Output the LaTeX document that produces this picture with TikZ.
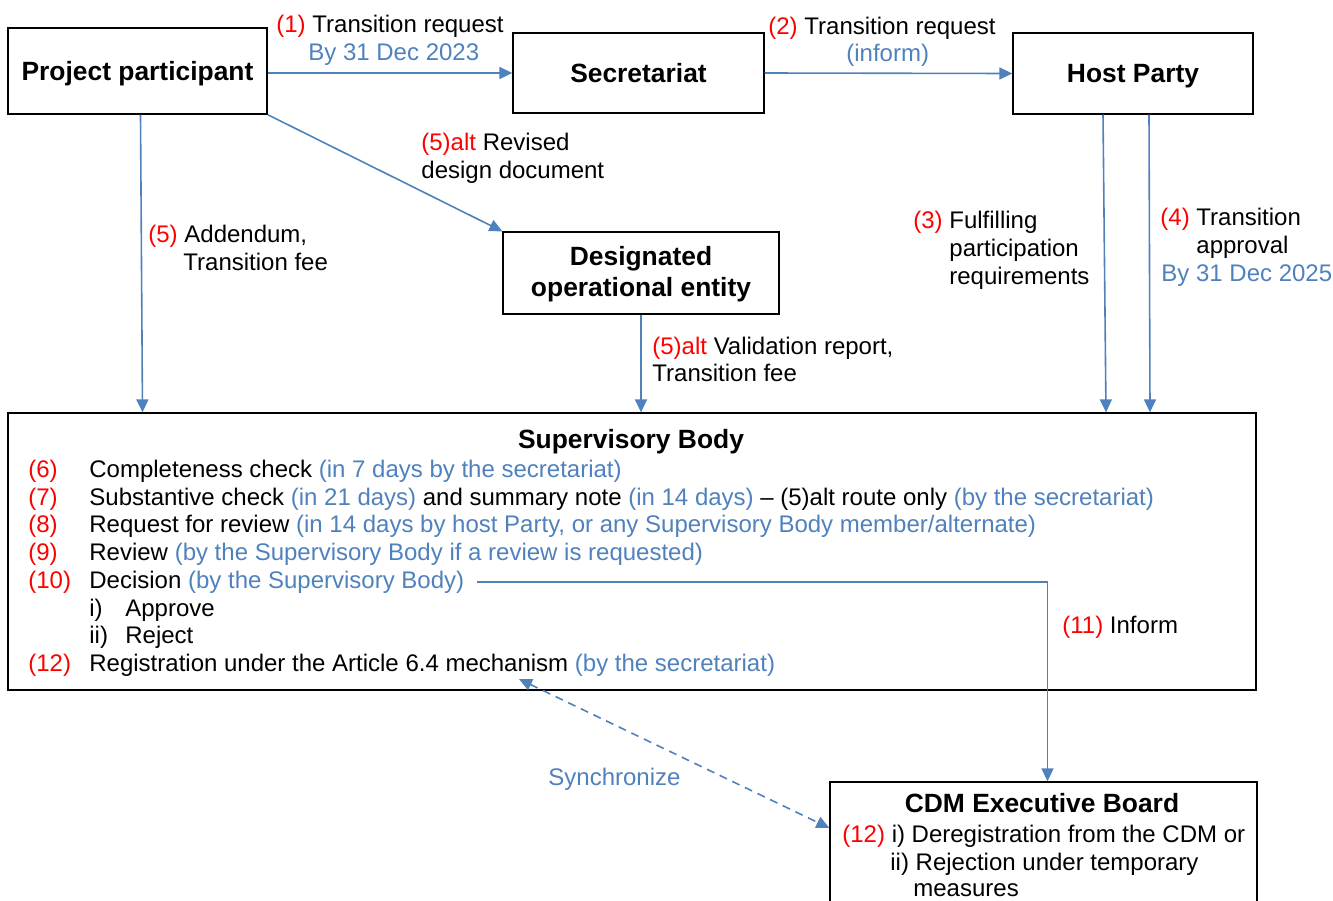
\documentclass[tikz,border=0pt]{standalone}
\usepackage{fontspec}
\setmainfont{Liberation Sans}
\usetikzlibrary{arrows.meta}

\definecolor{flowblue}{RGB}{79,129,189}
\definecolor{stepred}{RGB}{255,0,0}
\newcommand{\redtxt}[1]{\textcolor{stepred}{#1}}
\newcommand{\bluetxt}[1]{\textcolor{flowblue}{#1}}

\begin{document}
\begin{tikzpicture}[x=0.5pt, y=-0.5pt,
  font=\fontsize{12}{14}\selectfont,
  box/.style={draw, line width=0.65pt, inner sep=0pt, align=center,
    font=\fontsize{13.2}{15.5}\selectfont\bfseries},
  onebox/.style={box, text height=9.45pt, text depth=0pt},
  title/.style={anchor=base, inner sep=0pt, font=\fontsize{13.2}{15.5}\selectfont\bfseries},
  lbl/.style={anchor=base west, inner sep=0pt},
  flow/.style={-{Triangle[length=6.5pt,width=6pt]}, flowblue, line width=0.8pt}]
  \useasboundingbox (0,0) rectangle (1333,900);

  % boxes
  \node[onebox, minimum width=129.5pt, minimum height=43pt] (pp) at (137.5,71) {Project participant};
  \node[onebox, minimum width=125.5pt, minimum height=40pt] (sec) at (638.5,73) {Secretariat};
  \node[onebox, minimum width=120pt, minimum height=40.5pt] (hp) at (1133,73.5) {Host Party};
  \node[box, minimum width=138pt, minimum height=41pt] (doe) at (641,273) {\rule{0pt}{11pt}Designated\\operational entity};
  \node[box, minimum width=624pt, minimum height=138.5pt] (sb) at (632,551.5) {};
  \node[box, minimum width=213.5pt, minimum height=74pt] (cdm) at (1043.5,856) {};

  % supervisory body
  \node[title] (sbtitle) at (631,448) {Supervisory Body};
  \node[lbl] (row6) at (28,477) {\makebox[30.5pt][l]{\redtxt{(6)}}Completeness check \bluetxt{(in 7 days by the secretariat)}};
  \node[lbl] (row7) at (28,505) {\makebox[30.5pt][l]{\redtxt{(7)}}Substantive check \bluetxt{(in 21 days)} and summary note \bluetxt{(in 14 days)} -- (5)alt route only \bluetxt{(by the secretariat)}};
  \node[lbl] (row8) at (28,532) {\makebox[30.5pt][l]{\redtxt{(8)}}Request for review \bluetxt{(in 14 days by host Party, or any Supervisory Body member/alternate)}};
  \node[lbl] (row9) at (28,560) {\makebox[30.5pt][l]{\redtxt{(9)}}Review \bluetxt{(by the Supervisory Body if a review is requested)}};
  \node[lbl] (row10) at (28,588) {\makebox[30.5pt][l]{\redtxt{(10)}}Decision \bluetxt{(by the Supervisory Body)}};
  \node[lbl] (row10a) at (89,616) {\makebox[18pt][l]{i)}Approve};
  \node[lbl] (row10b) at (89,643) {\makebox[18pt][l]{ii)}Reject};
  \node[lbl] (row12) at (28,671) {\makebox[30.5pt][l]{\redtxt{(12)}}Registration under the Article 6.4 mechanism \bluetxt{(by the secretariat)}};

  % cdm executive board
  \node[title] (cdmtitle) at (1042,812) {CDM Executive Board};
  \node[lbl] (cdm1) at (842,842) {\redtxt{(12)} i) Deregistration from the CDM or};
  \node[lbl] (cdm2) at (890,870) {ii) Rejection under temporary};
  \node[lbl] (cdm3) at (913,896) {measures};

  % connectors
  \draw[flow] (pp.east |- sec.west) -- (sec.west);
  \draw[flow] (sec.east) -- (hp.west);
  \draw[flow] ([xshift=1.5pt]pp.south) -- ([xshift=2.5pt]pp.south |- sb.north);
  \draw[flow] (pp.south east) -- (doe.north west);
  \draw[flow] (doe.south) -- (doe.south |- sb.north);
  \draw[flow] ([xshift=-15pt]hp.south) -- ([xshift=-13.5pt]hp.south |- sb.north);
  \draw[flow] ([xshift=8pt]hp.south) -- ([xshift=8.5pt]hp.south |- sb.north);
  \draw[flow] ([xshift=6pt]row10.east) -| ([xshift=2pt]cdm.north);
  \coordinate (syncend) at (519,679);
  \draw[flow, {Triangle[length=6.5pt,width=6pt]}-{Triangle[length=6.5pt,width=6pt]}, dash pattern=on 4pt off 3pt]
    (syncend) -- ([yshift=14pt]cdm.west);

  % labels
  \node[lbl] (l1a) at (276,32) {\redtxt{(1)} Transition request};
  \node[lbl, text=flowblue] (l1b) at (308,60) {By 31 Dec 2023};
  \node[lbl] (l2a) at (768,34) {\redtxt{(2)} Transition request};
  \node[lbl, text=flowblue] (l2b) at (846,61) {(inform)};
  \node[lbl] (l5a) at (421,150) {\redtxt{(5)alt} Revised};
  \node[lbl] (l5b) at (421,178) {design document};
  \node[lbl] (l5c) at (148,242) {\redtxt{(5)} Addendum,};
  \node[lbl] (l5d) at (183,270) {Transition fee};
  \node[lbl] (l5e) at (652,354) {\redtxt{(5)alt} Validation report,};
  \node[lbl] (l5f) at (652,381) {Transition fee};
  \node[lbl] (l3a) at (913,228) {\redtxt{(3)} Fulfilling};
  \node[lbl] (l3b) at (949,256) {participation};
  \node[lbl] (l3c) at (949,284) {requirements};
  \node[lbl] (l4a) at (1160,225) {\redtxt{(4)} Transition};
  \node[lbl] (l4b) at (1196,253) {approval};
  \node[lbl, text=flowblue] (l4c) at (1161,281) {By 31 Dec 2025};
  \node[lbl] (l11) at (1062,633) {\redtxt{(11)} Inform};
  \node[lbl, text=flowblue] (lsync) at (548,785) {Synchronize};
\end{tikzpicture}
\end{document}
